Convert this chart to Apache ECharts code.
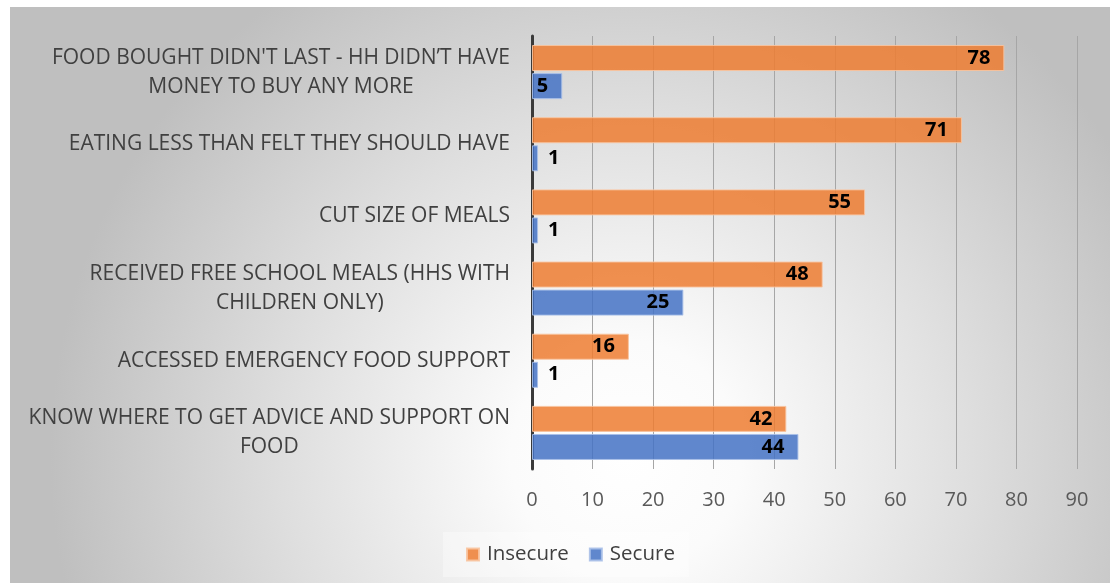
<!DOCTYPE html>
<html>
<head>
<meta charset="utf-8">
<script src="https://cdn.jsdelivr.net/npm/echarts@6/dist/echarts.min.js"></script>
<style>
  html, body { margin: 0; padding: 0; background: #ffffff; }
  #chart { width: 1110px; height: 583px; }
</style>
</head>
<body>
<div id="chart"></div>
<script>
// Food insecurity indicators, % of households
const categories = [
  "FOOD BOUGHT DIDN'T LAST - HH DIDN\u2019T HAVE\nMONEY TO BUY ANY MORE",
  "EATING LESS THAN FELT THEY SHOULD HAVE",
  "CUT SIZE OF MEALS",
  "RECEIVED FREE SCHOOL MEALS (HHS WITH\nCHILDREN ONLY)",
  "ACCESSED EMERGENCY FOOD SUPPORT",
  "KNOW WHERE TO GET ADVICE AND SUPPORT ON\nFOOD"
];
const insecure = [78, 71, 55, 48, 16, 42];
const secure = [5, 1, 1, 25, 1, 44];
const seriesNames = ['Insecure', 'Secure'];

const FONT = '"Open Sans", "Liberation Sans", sans-serif';

// small values get their label just outside the bar end
function withLabels(values) {
  return values.map(v => v < 3
    ? { value: v, label: { position: 'right', distance: 10 } }
    : { value: v });
}

const chart = echarts.init(document.getElementById('chart'), null, { renderer: 'canvas' });

const barLabel = {
  show: true,
  position: 'insideRight',
  distance: 14,
  color: '#000000',
  fontFamily: FONT,
  fontWeight: 'bold',
  fontSize: 20
};

chart.setOption({
  animation: false,
  graphic: [{
    type: 'rect',
    z: -10,
    silent: true,
    shape: { x: 10, y: 7, width: 1100, height: 576 },
    style: {
      fill: new echarts.graphic.RadialGradient(0.56, 0.78, 1.0, [
        { offset: 0, color: '#ffffff' },
        { offset: 0.2, color: '#fbfbfb' },
        { offset: 0.6, color: '#dedede' },
        { offset: 1, color: '#bfbfbf' }
      ])
    }
  }],
  grid: { left: 532, right: 33, top: 36, bottom: 114, containLabel: false },
  legend: {
    data: seriesNames,
    left: 443,
    bottom: 6,
    icon: 'rect',
    itemWidth: 12,
    itemHeight: 12,
    itemGap: 20,
    padding: [12, 14, 12, 23],
    backgroundColor: 'rgba(255,255,255,0.35)',
    textStyle: { color: '#404040', fontFamily: FONT, fontSize: 20.5, padding: [0, 0, 0, 3] }
  },
  xAxis: {
    type: 'value',
    min: 0,
    max: 90,
    interval: 10,
    axisLine: { show: false },
    axisTick: { show: false },
    splitLine: { lineStyle: { color: '#a6a6a6', width: 1 } },
    axisLabel: { color: '#595959', fontFamily: FONT, fontSize: 20, margin: 21 }
  },
  yAxis: {
    type: 'category',
    data: categories,
    inverse: true,
    axisLine: { lineStyle: { color: '#3a3a3a', width: 3 } },
    axisTick: { show: false },
    axisLabel: {
      margin: 22,
      align: 'right',
      formatter: v => v.split('\n').map(l => '{c|' + l + '}').join('\n'),
      rich: {
        c: { align: 'center', color: '#404040', fontFamily: FONT, fontSize: 21, lineHeight: 29 }
      }
    }
  },
  series: [
    {
      name: seriesNames[0],
      type: 'bar',
      data: withLabels(insecure),
      barWidth: 26,
      barGap: '8%',
      itemStyle: { color: 'rgba(237,125,49,0.85)', borderColor: 'rgba(248,196,160,0.9)', borderWidth: 1 },
      label: barLabel
    },
    {
      name: seriesNames[1],
      type: 'bar',
      data: withLabels(secure),
      barWidth: 26,
      barGap: '8%',
      itemStyle: { color: 'rgba(68,114,196,0.85)', borderColor: 'rgba(170,192,232,0.9)', borderWidth: 1 },
      label: barLabel
    }
  ]
});
</script>
</body>
</html>
